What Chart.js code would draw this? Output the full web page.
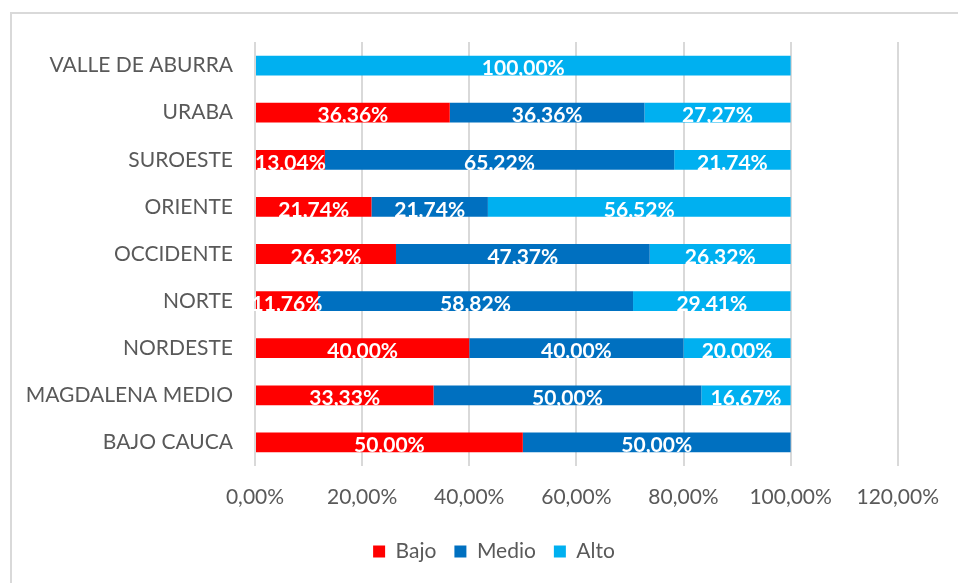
<!DOCTYPE html>
<html>
<head>
<meta charset="utf-8">
<script src="https://cdn.jsdelivr.net/npm/chart.js@4/dist/chart.umd.min.js"></script>
<style>
  html, body { margin: 0; padding: 0; background: #fff; }
  #wrap { width: 958px; height: 583px; }
</style>
</head>
<body>
<div id="wrap"><canvas id="chart" width="958" height="583"></canvas></div>
<script>
var regiones = ["VALLE DE ABURRA", "URABA", "SUROESTE", "ORIENTE", "OCCIDENTE", "NORTE", "NORDESTE", "MAGDALENA MEDIO", "BAJO CAUCA"];
var bajo  = [0, 36.36, 13.04, 21.74, 26.32, 11.76, 40.00, 33.33, 50.00];
var medio = [0, 36.36, 65.22, 21.74, 47.37, 58.82, 40.00, 50.00, 50.00];
var alto  = [100.00, 27.27, 21.74, 56.52, 26.32, 29.41, 20.00, 16.67, 0];
var ejeMax = 120;
var ejePaso = 20;

var fuente = "Lato, 'Open Sans', sans-serif";

function pct(v) {
    return v.toFixed(2).replace('.', ',') + '%';
}

// white labels centred in each bar segment
var etiquetas = {
    id: 'etiquetas',
    afterDatasetsDraw: function(chart) {
        var ctx = chart.ctx;
        ctx.save();
        ctx.fillStyle = '#ffffff';
        ctx.font = 'bold 21px ' + fuente;
        ctx.textAlign = 'center';
        ctx.textBaseline = 'middle';
        chart.data.datasets.forEach(function(ds, i) {
            var meta = chart.getDatasetMeta(i);
            meta.data.forEach(function(bar, j) {
                var v = ds.data[j];
                if (!v) return;
                var x = (bar.x + bar.base) / 2;
                ctx.fillText(pct(v), x, bar.y + 3);
            });
        });
        ctx.restore();
    }
};

// light frame around the chart, legend nudged right
var marco = {
    id: 'marco',
    afterLayout: function(chart) {
        chart.legend.left += 33;
        chart.legend.right += 33;
    },
    beforeDraw: function(chart) {
        var ctx = chart.ctx;
        ctx.save();
        ctx.fillStyle = '#ffffff';
        ctx.fillRect(0, 0, chart.width, chart.height);
        ctx.strokeStyle = '#d9d9d9';
        ctx.lineWidth = 2;
        ctx.strokeRect(11, 13, 1000, 1000);
        ctx.restore();
    }
};

new Chart(document.getElementById('chart'), {
    type: 'bar',
    data: {
        labels: regiones,
        datasets: [
            { label: 'Bajo', data: bajo, backgroundColor: '#ff0000' },
            { label: 'Medio', data: medio, backgroundColor: '#0070c0' },
            { label: 'Alto', data: alto, backgroundColor: '#00b0f0' }
        ]
    },
    options: {
        indexAxis: 'y',
        responsive: false,
        animation: false,
        layout: { padding: { left: 20, right: 56, top: 42, bottom: 11 } },
        datasets: { bar: { categoryPercentage: 1, barPercentage: 0.42 } },
        scales: {
            x: {
                stacked: true,
                min: 0,
                max: ejeMax,
                border: { display: false },
                grid: { color: '#d9d9d9', lineWidth: 2, drawTicks: false },
                ticks: {
                    stepSize: ejePaso,
                    padding: 19,
                    color: '#595959',
                    font: { family: fuente, size: 21 },
                    callback: function(v) { return pct(v); }
                },
                afterFit: function(s) { s.height = 57; }
            },
            y: {
                stacked: true,
                border: { display: false },
                grid: { display: false, drawTicks: false },
                ticks: {
                    padding: 22,
                    color: '#595959',
                    font: { family: fuente, size: 21 }
                },
                afterFit: function(s) { s.width = 235; }
            }
        },
        plugins: {
            legend: {
                position: 'bottom',
                labels: {
                    boxWidth: 12,
                    boxHeight: 12,
                    padding: 18,
                    color: '#595959',
                    font: { family: fuente, size: 21 }
                }
            },
            tooltip: { enabled: false }
        }
    },
    plugins: [marco, etiquetas]
});
</script>
</body>
</html>
